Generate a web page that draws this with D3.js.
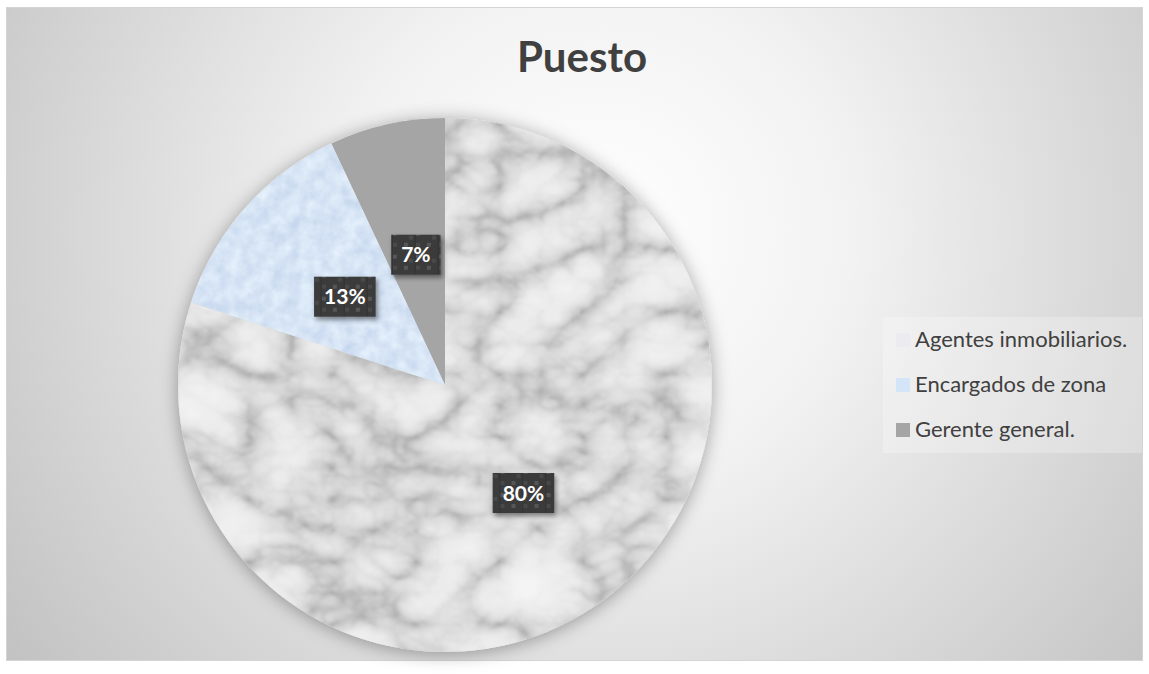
<!DOCTYPE html>
<html>
<head>
<meta charset="utf-8">
<script src="https://cdn.jsdelivr.net/npm/d3@7"></script>
<style>
  body { margin: 0; background: #fff; }
  svg { display: block; }
</style>
</head>
<body>
<div id="chart"></div>
<script>
// Data
const categories = ["Agentes inmobiliarios.", "Encargados de zona", "Gerente general."];
const values = [80, 13, 7];
const title = "Puesto";

const W = 1149, H = 674;
const cx = 445, cy = 385, r = 267;

const svg = d3.select("#chart").append("svg")
  .attr("width", W)
  .attr("height", H);

const defs = svg.append("defs");

// background gradient
const bg = defs.append("radialGradient")
  .attr("id", "bg")
  .attr("gradientUnits", "userSpaceOnUse")
  .attr("cx", 600).attr("cy", 230).attr("r", 720);
bg.append("stop").attr("offset", "0").attr("stop-color", "#ffffff");
bg.append("stop").attr("offset", "0.35").attr("stop-color", "#f2f2f2");
bg.append("stop").attr("offset", "1").attr("stop-color", "#c3c3c3");

// marble texture for first slice (turbulence gives the veins)
const marble = defs.append("filter").attr("id", "marble")
  .attr("x", 0).attr("y", 0).attr("width", 1).attr("height", 1)
  .attr("color-interpolation-filters", "sRGB");
marble.append("feTurbulence")
  .attr("type", "turbulence")
  .attr("baseFrequency", "0.012 0.016")
  .attr("numOctaves", 5)
  .attr("seed", 11);
marble.append("feColorMatrix")
  .attr("type", "matrix")
  .attr("values", "1 0 0 0 0  1 0 0 0 0  1 0 0 0 0  0 0 0 0 1");
const mct = marble.append("feComponentTransfer");
const marbleTable = "0.66 0.74 0.81 0.86 0.89 0.92 0.93 0.94 0.95 0.96 0.96";
["feFuncR", "feFuncG", "feFuncB"].forEach(f =>
  mct.append(f).attr("type", "table").attr("tableValues", marbleTable));
marble.append("feGaussianBlur").attr("stdDeviation", 1.3);

// light blue texture for second slice
const blue = defs.append("filter").attr("id", "bluetex")
  .attr("x", 0).attr("y", 0).attr("width", 1).attr("height", 1)
  .attr("color-interpolation-filters", "sRGB");
blue.append("feTurbulence")
  .attr("type", "fractalNoise")
  .attr("baseFrequency", "0.07")
  .attr("numOctaves", 3)
  .attr("seed", 2);
blue.append("feColorMatrix")
  .attr("type", "matrix")
  .attr("values", "0.18 0 0 0 0.75  0.15 0 0 0 0.82  0.08 0 0 0 0.92  0 0 0 0 1");

// shadows
const pieShadow = defs.append("filter").attr("id", "pieShadow")
  .attr("x", "-20%").attr("y", "-20%").attr("width", "140%").attr("height", "140%");
pieShadow.append("feDropShadow")
  .attr("dx", 0).attr("dy", 2)
  .attr("stdDeviation", 9)
  .attr("flood-color", "#000")
  .attr("flood-opacity", 0.35);

const boxShadow = defs.append("filter").attr("id", "boxShadow")
  .attr("x", "-30%").attr("y", "-30%").attr("width", "160%").attr("height", "160%");
boxShadow.append("feDropShadow")
  .attr("dx", 2).attr("dy", 3)
  .attr("stdDeviation", 2.5)
  .attr("flood-color", "#000")
  .attr("flood-opacity", 0.45);

// small squares pattern for the label boxes
const pat = defs.append("pattern").attr("id", "labelPat")
  .attr("patternUnits", "userSpaceOnUse")
  .attr("width", 23).attr("height", 23);
pat.append("rect").attr("width", 23).attr("height", 23).attr("fill", "#3a3a3a");
pat.append("rect").attr("x", 22).attr("width", 1).attr("height", 23).attr("fill", "#333");
[[0, 0], [11, 11], [0, 11], [16, 4]].forEach(([x, y], i) =>
  pat.append("rect").attr("x", x).attr("y", y).attr("width", 4).attr("height", 4)
    .attr("fill", i < 2 ? "#575757" : "#4a4a4a"));

// chart area
svg.append("rect")
  .attr("x", 6.5).attr("y", 7.5)
  .attr("width", 1136).attr("height", 653)
  .attr("fill", "url(#bg)")
  .attr("stroke", "#d4d4d4");

// title
svg.append("text")
  .attr("x", 582).attr("y", 72)
  .attr("text-anchor", "middle")
  .attr("font-family", "Lato, 'Open Sans', sans-serif")
  .attr("font-weight", "bold")
  .attr("font-size", 42)
  .attr("fill", "#404040")
  .text(title);

// pie
const pie = d3.pie().sort(null).value(d => d)(values);
const arc = d3.arc().innerRadius(0).outerRadius(r);
const fills = [
  { filter: "url(#marble)" },
  { filter: "url(#bluetex)" },
  { color: "#a5a5a5" }
];

const g = svg.append("g").attr("transform", `translate(${cx},${cy})`);

// shadow under the whole pie
g.append("circle").attr("r", r).attr("fill", "#ddd").attr("filter", "url(#pieShadow)");

pie.forEach((d, i) => {
  const id = "clip" + i;
  defs.append("clipPath").attr("id", id)
    .append("path")
    .attr("transform", `translate(${cx},${cy})`)
    .attr("d", arc(d));
  if (fills[i].filter) {
    svg.append("rect")
      .attr("x", cx - r).attr("y", cy - r)
      .attr("width", 2 * r).attr("height", 2 * r)
      .attr("filter", fills[i].filter)
      .attr("clip-path", `url(#${id})`);
  } else {
    g.append("path").attr("d", arc(d)).attr("fill", fills[i].color);
  }
});

// data labels
const lg = svg.append("g").attr("transform", `translate(${cx},${cy})`);
pie.forEach(d => {
  const [x, y] = arc.centroid(d);
  const t = Math.round(d.data) + "%";
  const lab = lg.append("g").attr("transform", `translate(${x},${y})`);
  const rect = lab.append("rect").attr("fill", "url(#labelPat)").attr("filter", "url(#boxShadow)");
  const txt = lab.append("text")
    .attr("text-anchor", "middle")
    .attr("dy", "0.36em")
    .attr("font-family", "Lato, 'Open Sans', sans-serif")
    .attr("font-weight", "bold")
    .attr("font-size", 21)
    .attr("fill", "#fff")
    .text(t);
  const bw = txt.node().getBBox().width + 20;
  rect.attr("x", -bw / 2).attr("y", -20).attr("width", bw).attr("height", 40);
});

// legend
const legend = svg.append("g");
legend.append("rect")
  .attr("x", 883).attr("y", 317)
  .attr("width", 259).attr("height", 136)
  .attr("fill", "#ffffff").attr("fill-opacity", 0.25);

const swatch = ["#ececf0", "#d3e5f7", "#a5a5a5"];
categories.forEach((c, i) => {
  const y = 347 + i * 45;
  legend.append("rect")
    .attr("x", 896).attr("y", y - 14)
    .attr("width", 14).attr("height", 14)
    .attr("fill", swatch[i]);
  legend.append("text")
    .attr("x", 915).attr("y", y)
    .attr("font-family", "Lato, 'Open Sans', sans-serif")
    .attr("font-size", 22)
    .attr("fill", "#404040")
    .text(c);
});
</script>
</body>
</html>
